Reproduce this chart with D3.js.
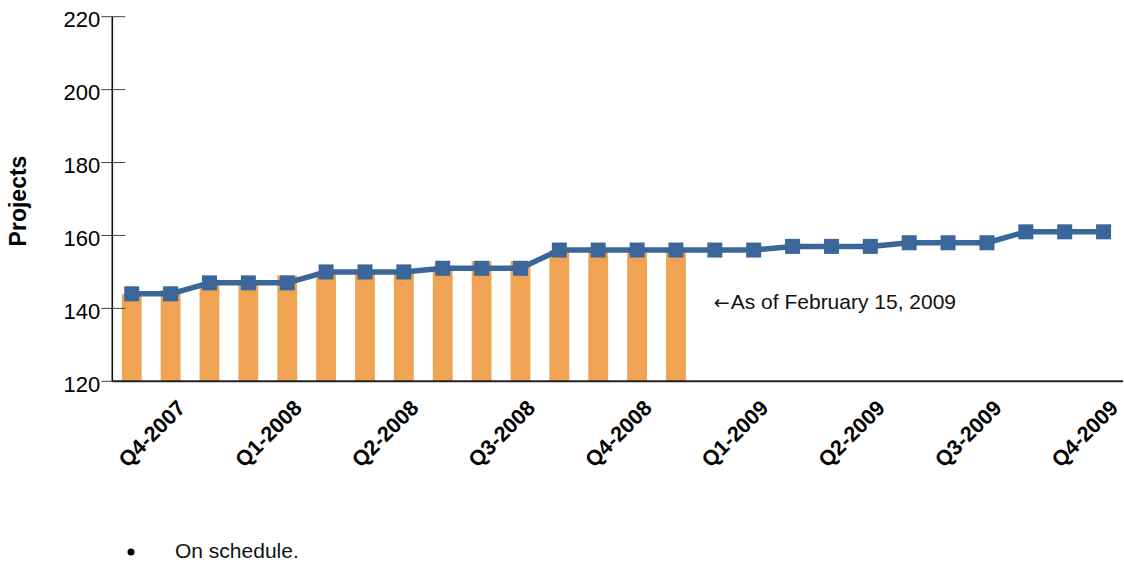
<!DOCTYPE html>
<html>
<head>
<meta charset="utf-8">
<script src="https://cdn.jsdelivr.net/npm/d3@7"></script>
<style>
  html, body { margin: 0; padding: 0; background: #fff; }
  svg { display: block; font-family: "Liberation Sans", Arial, sans-serif; }
</style>
</head>
<body>
<svg id="chart" width="1124" height="563"></svg>
<script>
// ---- data ----
const months = [
  "Oct-2007","Nov-2007","Dec-2007","Jan-2008","Feb-2008","Mar-2008","Apr-2008","May-2008",
  "Jun-2008","Jul-2008","Aug-2008","Sep-2008","Oct-2008","Nov-2008","Dec-2008","Jan-2009",
  "Feb-2009","Mar-2009","Apr-2009","May-2009","Jun-2009","Jul-2009","Aug-2009","Sep-2009",
  "Oct-2009","Nov-2009"
];
const actualProjects = [144,145,147,147,149,150,150,150,151,153,153,156,156,156,156];
const plannedProjects = [144,144,147,147,147,150,150,150,151,151,151,156,156,156,156,156,156,157,157,157,158,158,158,161,161,161];
const tickMonths = ["Nov-2007","Feb-2008","May-2008","Aug-2008","Nov-2008","Feb-2009","May-2009","Aug-2009","Nov-2009"];
const tickLabels = ["Q4-2007","Q1-2008","Q2-2008","Q3-2008","Q4-2008","Q1-2009","Q2-2009","Q3-2009","Q4-2009"];
const yTicks = [120,140,160,180,200,220];
const yTitle = "Projects";
const annotationArrow = "\u2190";
const annotation = "As of February 15, 2009";
const noteText = "On schedule.";

// ---- layout ----
const svg = d3.select("#chart");
const mLeft = 112.3, mRight = 1123, mTop = 16.7, mBottom = 381.3;

const x = d3.scaleBand().domain(months).range([mLeft, mRight]).paddingInner(0.49).paddingOuter(0.245);
const y = d3.scaleLinear().domain([120, 220]).range([mBottom, mTop]);

const orange = "#F0A352";
const blue = "#3B6699";

// bars
svg.append("g").selectAll("rect")
  .data(actualProjects)
  .join("rect")
  .attr("x", (d, i) => x(months[i]))
  .attr("width", x.bandwidth())
  .attr("y", d => y(d))
  .attr("height", d => y(120) - y(d))
  .attr("fill", orange);

// y axis
const yAxis = d3.axisLeft(y).tickValues(yTicks).tickSize(0).tickPadding(12);
const yg = svg.append("g").attr("transform", `translate(${mLeft},0)`).call(yAxis);
yg.select(".domain").remove();
yg.selectAll("text")
  .attr("font-size", 22)
  .attr("font-family", "Liberation Sans, Arial, sans-serif")
  .attr("fill", "#000")
  .attr("dy", "0.46em");
// tick marks crossing axis
svg.append("g").selectAll("line")
  .data(yTicks)
  .join("line")
  .attr("x1", mLeft - 11).attr("x2", mLeft + 13)
  .attr("y1", d => y(d)).attr("y2", d => y(d))
  .attr("stroke", "#444").attr("stroke-width", 1);

svg.append("line")
  .attr("x1", mLeft).attr("x2", mLeft)
  .attr("y1", mTop).attr("y2", mBottom)
  .attr("stroke", "#111").attr("stroke-width", 1.6);

// x axis line
svg.append("line")
  .attr("x1", mLeft).attr("x2", mRight)
  .attr("y1", mBottom).attr("y2", mBottom)
  .attr("stroke", "#222").attr("stroke-width", 2);

// x tick labels
const cx = m => x(m) + x.bandwidth() / 2;
svg.append("g").selectAll("text")
  .data(tickMonths)
  .join("text")
  .attr("transform", (m) => `translate(${cx(m) + 16},${mBottom + 28}) rotate(-45)`)
  .attr("text-anchor", "end")
  .attr("font-size", 21.5)
  .attr("font-weight", "bold")
  .attr("fill", "#000")
  .text((m, i) => tickLabels[i]);

// line
const line = d3.line()
  .x((d, i) => cx(months[i]))
  .y(d => y(d));
svg.append("path")
  .datum(plannedProjects)
  .attr("d", line)
  .attr("fill", "none")
  .attr("stroke", blue)
  .attr("stroke-width", 5.5)
  .attr("stroke-linejoin", "round");

// markers
const ms = 15;
svg.append("g").selectAll("rect")
  .data(plannedProjects)
  .join("rect")
  .attr("x", (d, i) => cx(months[i]) - ms / 2)
  .attr("y", d => y(d) - ms / 2)
  .attr("width", ms).attr("height", ms)
  .attr("fill", blue);

// y title
svg.append("text")
  .attr("transform", `translate(26,201) rotate(-90)`)
  .attr("text-anchor", "middle")
  .attr("font-size", 23)
  .attr("font-weight", "bold")
  .text(yTitle);

// annotation
const ann = svg.append("text")
  .attr("x", cx("Jan-2009") - 1)
  .attr("y", y(140) + 1)
  .attr("font-size", 21)
  .attr("fill", "#111");
ann.append("tspan").attr("font-family", "DejaVu Sans").attr("font-size", 19).text(annotationArrow);
ann.append("tspan").attr("dx", 1).text(annotation);

// bullet note
svg.append("circle").attr("cx", 131).attr("cy", 552).attr("r", 3.5).attr("fill", "#000");
svg.append("text")
  .attr("x", 175).attr("y", 558)
  .attr("font-size", 21)
  .attr("fill", "#111")
  .text(noteText);
</script>
</body>
</html>
